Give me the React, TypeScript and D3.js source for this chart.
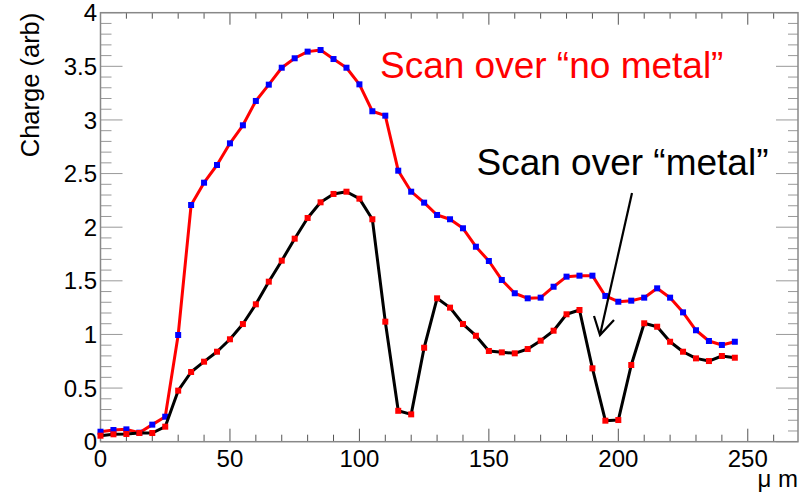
import React from "react";
import * as d3 from "d3";

const xValues: number[] = d3.range(0, 250, 5);

const noMetal: number[] = [
  0.093, 0.109, 0.115, 0.084, 0.159, 0.233, 0.995, 2.207, 2.415, 2.58,
  2.782, 2.95, 3.177, 3.329, 3.487, 3.575, 3.637, 3.652, 3.568, 3.487,
  3.332, 3.081, 3.04, 2.527, 2.331, 2.229, 2.114, 2.074, 1.99, 1.818,
  1.685, 1.508, 1.384, 1.337, 1.343, 1.445, 1.539, 1.548, 1.548, 1.359,
  1.305, 1.315, 1.343, 1.43, 1.343, 1.206, 1.039, 0.939, 0.902, 0.932,
];

const metal: number[] = [
  0.056, 0.069, 0.072, 0.081, 0.081, 0.14, 0.476, 0.65, 0.746, 0.839,
  0.955, 1.097, 1.281, 1.492, 1.688, 1.893, 2.086, 2.232, 2.31, 2.331,
  2.266, 2.074, 1.119, 0.288, 0.255, 0.876, 1.337, 1.25, 1.097, 0.988,
  0.846, 0.833, 0.824, 0.864, 0.942, 1.035, 1.188, 1.228, 0.684, 0.196,
  0.202, 0.715, 1.104, 1.072, 0.932, 0.839, 0.777, 0.752, 0.799, 0.783,
];

const xMajorTicks: number[] = [0, 50, 100, 150, 200, 250];
const xMinorTicks: number[] = d3.range(0, 261, 10);
const yMajorTicks: number[] = [0, 0.5, 1, 1.5, 2, 2.5, 3, 3.5, 4];
const yMinorTicks: number[] = d3.range(0, 4.001, 0.1);
const yTickLabels: string[] = ["0", "0.5", "1", "1.5", "2", "2.5", "3", "3.5", "4"];

const yTitle = "Charge (arb)";
const xTitle = "\u03bc m";
const label1 = "Scan over \u201cno metal\u201d";
const label2 = "Scan over \u201cmetal\u201d";

const FONT = "'Liberation Sans', Arial, Helvetica, sans-serif";

export default function App() {
  const W = 803;
  const H = 497;
  const left = 100.5;
  const right = 798;
  const top = 12.7;
  const bottom = 441.7;

  const x = d3.scaleLinear().domain([0, 269.4]).range([left, right]);
  const y = d3.scaleLinear().domain([0, 4]).range([bottom, top]);

  const line = d3
    .line<[number, number]>()
    .x((d) => x(d[0]))
    .y((d) => y(d[1]));

  const s1: [number, number][] = xValues.map((v, i) => [v, noMetal[i]]);
  const s2: [number, number][] = xValues.map((v, i) => [v, metal[i]]);

  const isMajorX = (v: number) => xMajorTicks.some((m) => Math.abs(m - v) < 1e-6);
  const isMajorY = (v: number) => yMajorTicks.some((m) => Math.abs(m - v) < 1e-6);

  const ms = 6;

  const ax1 = 632, ay1 = 193, ax2 = 600, ay2 = 335;

  return (
    <svg
      width={W}
      height={H}
      style={{ position: "absolute", left: 0, top: 0, background: "#fff" }}
      fontFamily={FONT}
    >
      <rect x={0} y={0} width={W} height={H} fill="#fff" />

      {xMinorTicks.map((v) => {
        const maj = isMajorX(v);
        return (
          <g key={"xt" + v}>
            <line x1={x(v)} x2={x(v)} y1={bottom} y2={bottom - (maj ? 13 : 7)} stroke="#555" strokeWidth={1} />
            <line x1={x(v)} x2={x(v)} y1={top} y2={top + (maj ? 12 : 6)} stroke="#555" strokeWidth={1} />
          </g>
        );
      })}
      {yMinorTicks.map((v) => {
        const maj = isMajorY(v);
        return (
          <g key={"yt" + v.toFixed(1)}>
            <line x1={left} x2={left + (maj ? 22 : 11)} y1={y(v)} y2={y(v)} stroke="#999" strokeWidth={1} />
            <line x1={right} x2={right - (maj ? 22 : 10)} y1={y(v)} y2={y(v)} stroke="#999" strokeWidth={1} />
          </g>
        );
      })}

      <rect x={left} y={top} width={right - left} height={bottom - top} fill="none" stroke="#888" strokeWidth={1.5} />

      {xMajorTicks.map((v) => (
        <text key={"xl" + v} x={x(v)} y={466.5} textAnchor="middle" fontSize={24} fill="#000">
          {String(v)}
        </text>
      ))}
      {yMajorTicks.map((v, i) => (
        <text key={"yl" + v} x={97} y={y(v) + 8.6} textAnchor="end" fontSize={24} fill="#000">
          {yTickLabels[i]}
        </text>
      ))}

      <text
        transform={`translate(39, ${top}) rotate(-90)`}
        textAnchor="end"
        fontSize={25.5}
        fill="#000"
      >
        {yTitle}
      </text>
      <text x={798} y={487} textAnchor="end" fontSize={24} fill="#000">
        {xTitle}
      </text>

      <path d={line(s1) || ""} fill="none" stroke="#ff0000" strokeWidth={3} strokeLinejoin="round" />
      {s1.map((d, i) => (
        <rect key={"m1" + i} x={x(d[0]) - ms / 2} y={y(d[1]) - ms / 2} width={ms} height={ms} fill="#0000ff" />
      ))}
      <path d={line(s2) || ""} fill="none" stroke="#000" strokeWidth={3} strokeLinejoin="round" />
      {s2.map((d, i) => (
        <rect key={"m2" + i} x={x(d[0]) - ms / 2} y={y(d[1]) - ms / 2} width={ms} height={ms} fill="#ff0000" />
      ))}

      <text x={380} y={78} fontSize={37} fill="#ff0000">
        {label1}
      </text>
      <text x={476.5} y={175} fontSize={37} fill="#000">
        {label2}
      </text>
      <line x1={ax1} y1={ay1} x2={ax2} y2={ay2} stroke="#000" strokeWidth={2.2} />
      <polyline
        points={`594,316 ${ax2},${ay2} 614,320`}
        fill="none"
        stroke="#000"
        strokeWidth={2.2}
      />
    </svg>
  );
}
